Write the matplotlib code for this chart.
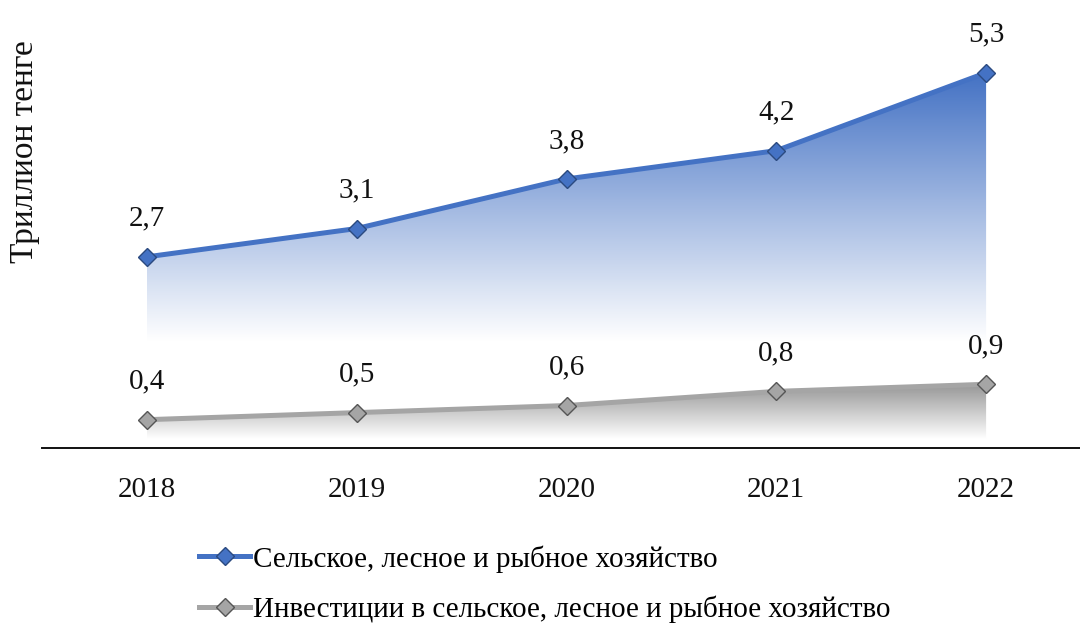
import numpy as np
import matplotlib
matplotlib.use("Agg")
import matplotlib.pyplot as plt
from matplotlib.colors import LinearSegmentedColormap

plt.rcParams['font.family'] = ['Liberation Serif', 'DejaVu Serif']

years = ["2018", "2019", "2020", "2021", "2022"]
agri = [2.7, 3.1, 3.8, 4.2, 5.3]
invest = [0.4, 0.5, 0.6, 0.8, 0.9]
agri_labels = ["2,7", "3,1", "3,8", "4,2", "5,3"]
invest_labels = ["0,4", "0,5", "0,6", "0,8", "0,9"]
series_names = ["Сельское, лесное и рыбное хозяйство",
                "Инвестиции в сельское, лесное и рыбное хозяйство"]

BLUE = "#4472C4"
GRAY = "#A5A5A5"
FS = 21


def gradient_fill(ax, x, y, color, v_fade, v_full, zorder):
    # fill under line with vertical gradient (white at v_fade -> color at v_full)
    poly = ax.fill_between(x, 0, y, facecolor="none", edgecolor="none")
    cmap = LinearSegmentedColormap.from_list("g", ["white", color])
    vals = np.linspace(0, 6, 400)
    t = np.clip((vals - v_fade) / (v_full - v_fade), 0, 1)
    img = ax.imshow(t[:, None], cmap=cmap, vmin=0, vmax=1, origin="lower",
                    extent=[x[0], x[-1], 0, 6], aspect="auto", zorder=zorder,
                    interpolation="bilinear")
    path = poly.get_paths()[0]
    img.set_clip_path(path, transform=ax.transData)


fig = plt.figure(figsize=(10.8, 6.27), dpi=100)
ax = fig.add_axes([42 / 1080, 1 - 448 / 627, 1049 / 1080, 424.8 / 627])

x = np.arange(len(years))
gradient_fill(ax, x, agri, BLUE, 1.5, 5.3, 1)
gradient_fill(ax, x, invest, "#8f8f8f", 0.12, 0.95, 2)

ax.plot(x, agri, color=BLUE, lw=3.6, marker="D", ms=9,
        mfc=BLUE, mec="#2B4A80", mew=1.0, zorder=4, label=series_names[0])
ax.plot(x, invest, color=GRAY, lw=3.6, marker="D", ms=9,
        mfc=GRAY, mec="#555555", mew=1.0, zorder=4, label=series_names[1])

for xi, v, lab in zip(x, agri, agri_labels):
    ax.annotate(lab, (xi, v), xytext=(0, 18), textcoords="offset points",
                ha="center", va="bottom", fontsize=FS, color="#111111")
for xi, v, lab in zip(x, invest, invest_labels):
    ax.annotate(lab, (xi, v), xytext=(0, 18), textcoords="offset points",
                ha="center", va="bottom", fontsize=FS, color="#111111")

ax.set_xlim(-0.5, 4.5)
ax.set_ylim(0, 6)
ax.set_xticks(x)
ax.set_xticklabels(years, fontsize=FS, color="#111111")
ax.tick_params(axis="x", length=0, pad=21)
ax.set_yticks([])
for s in ["top", "right", "left"]:
    ax.spines[s].set_visible(False)
ax.spines["bottom"].set_linewidth(1.4)
ax.spines["bottom"].set_color("#111111")
ax.patch.set_alpha(0)

fig.text(25 / 1080, 1 - 152 / 627, "Триллион тенге", rotation=90,
         ha="center", va="center", fontsize=24, color="#111111")

handles, labels = ax.get_legend_handles_labels()
fig.legend(handles, labels, loc="center left",
           bbox_to_anchor=(199 / 1080, 1 - 584 / 627),
           frameon=False, fontsize=FS, handlelength=1.75, handletextpad=0.1,
           labelspacing=0.78, borderpad=0, borderaxespad=0)

fig.savefig("out.png", dpi=100)
